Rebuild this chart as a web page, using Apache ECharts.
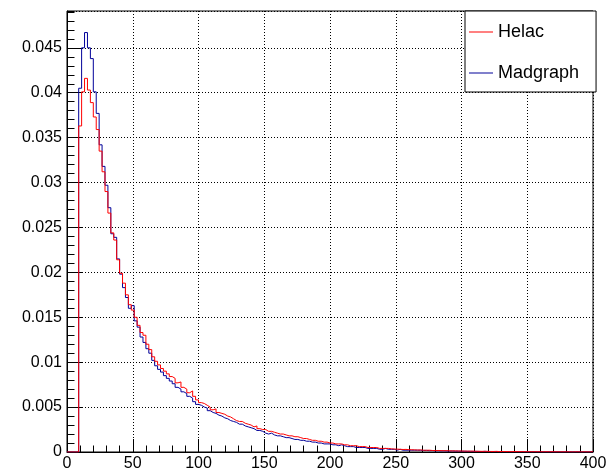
<!DOCTYPE html>
<html>
<head>
<meta charset="utf-8">
<script src="https://cdn.jsdelivr.net/npm/echarts@6/dist/echarts.min.js"></script>
<style>
  html, body { margin: 0; padding: 0; background: #fff; }
  #chart { width: 611px; height: 474px; }
</style>
</head>
<body>
<div id="chart"></div>
<script>
// Histogram binning: 180 bins on [0, 400]
const xMin = 0;
const xMax = 400;
const nBins = 180;

// Normalised bin contents, one entry per bin
const madgraph = [
  0, 0, 0, 0, 0.0405, 0.0450, 0.0467, 0.0450, 0.0438, 0.0401,
  0.0377, 0.0342, 0.0318, 0.0297, 0.0272, 0.0243, 0.0239, 0.0215, 0.0198, 0.0183,
  0.0172, 0.0160, 0.0163, 0.0146, 0.0139, 0.0128, 0.0122, 0.0115, 0.0110, 0.0102,
  0.0096, 0.0092, 0.0089, 0.0085, 0.0082, 0.0079, 0.0076, 0.0072, 0.0070, 0.0067,
  0.0065, 0.0062, 0.0060, 0.0056, 0.0053, 0.0052, 0.0050, 0.0049, 0.0046, 0.0044,
  0.0043, 0.0041, 0.0040, 0.0038, 0.0037, 0.0035, 0.0034, 0.0033, 0.0031, 0.0031,
  0.0029, 0.0028, 0.0027, 0.0026, 0.0024, 0.0024, 0.0023, 0.0021, 0.0020, 0.0021,
  0.0019, 0.0018, 0.0018, 0.0017, 0.0016, 0.0016, 0.0015, 0.0014, 0.0014, 0.0013,
  0.0013, 0.0012, 0.0012, 0.0011, 0.0011, 0.0010, 0.0010, 0.0009, 0.0009, 0.0009,
  0.0008, 0.0008, 0.0007, 0.0008, 0.0007, 0.0006, 0.0006, 0.0006, 0.0005, 0.0005,
  0.0005, 0.0005, 0.0004, 0.0004, 0.0004, 0.0004, 0.0003, 0.0003, 0.0004, 0.0003,
  0.0003, 0.0003, 0.0002, 0.0003, 0.0002, 0.0002, 0.0002, 0.0002, 0.0002, 0.0002,
  0.00019, 0.00017, 0.00018, 0.00015, 0.00016, 0.00013, 0.00014, 0.00012, 0.00013, 0.00011,
  0.00010, 0.00012, 0.00009, 0.00010, 0.00008, 0.00009, 0.00007, 0.00008, 0.00006, 0.00007,
  0.00006, 0.00005, 0.00007, 0.00005, 0.00005, 0.00004, 0.00005, 0.00004, 0.00004, 0.00003,
  0.00004, 0.00003, 0.00003, 0.00004, 0.00002, 0.00003, 0.00003, 0.00002, 0.00002, 0.00003,
  0.00002, 0.00002, 0.00002, 0.00001, 0.00002, 0.00002, 0.00001, 0.00002, 0.00001, 0.00001,
  0.00002, 0.00001, 0.00001, 0.00001, 0.00002, 0.00001, 0.00001, 0.00001, 0.00001, 0.00001
];

const helac = [
  0, 0, 0, 0, 0.0363, 0.0401, 0.0416, 0.0403, 0.0389, 0.0373,
  0.0359, 0.0335, 0.0312, 0.0290, 0.0266, 0.0244, 0.0236, 0.0214, 0.0199, 0.0188,
  0.0175, 0.0164, 0.0158, 0.0150, 0.0141, 0.0133, 0.0130, 0.0120, 0.0114, 0.0106,
  0.0101, 0.0097, 0.0093, 0.0090, 0.0087, 0.0084, 0.0082, 0.0077, 0.0078, 0.0072,
  0.0070, 0.0066, 0.0068, 0.0062, 0.0058, 0.0055, 0.0054, 0.0052, 0.0050, 0.0047,
  0.0048, 0.0044, 0.0043, 0.0042, 0.0040, 0.0039, 0.0037, 0.0035, 0.0034, 0.0034,
  0.0032, 0.0031, 0.0030, 0.0028, 0.0029, 0.0026, 0.0025, 0.0025, 0.0023, 0.0023,
  0.0022, 0.0021, 0.0020, 0.0020, 0.0019, 0.0018, 0.0018, 0.0017, 0.0017, 0.0016,
  0.0015, 0.0015, 0.0014, 0.0013, 0.0013, 0.0012, 0.0012, 0.0011, 0.0011, 0.0010,
  0.0010, 0.0009, 0.0009, 0.0009, 0.0008, 0.0008, 0.0007, 0.0007, 0.0007, 0.0006,
  0.0006, 0.0006, 0.0005, 0.0005, 0.0005, 0.0005, 0.0004, 0.0004, 0.0004, 0.0004,
  0.00035, 0.00033, 0.00032, 0.00030, 0.00028, 0.00029, 0.00026, 0.00025, 0.00024, 0.00022,
  0.00023, 0.00020, 0.00019, 0.00020, 0.00017, 0.00016, 0.00017, 0.00015, 0.00014, 0.00015,
  0.00013, 0.00012, 0.00013, 0.00011, 0.00011, 0.00010, 0.00010, 0.00009, 0.00010, 0.00008,
  0.00008, 0.00007, 0.00008, 0.00007, 0.00006, 0.00006, 0.00007, 0.00005, 0.00006, 0.00005,
  0.00005, 0.00004, 0.00005, 0.00004, 0.00004, 0.00004, 0.00003, 0.00004, 0.00003, 0.00003,
  0.00003, 0.00003, 0.00002, 0.00003, 0.00002, 0.00003, 0.00002, 0.00002, 0.00002, 0.00002,
  0.00002, 0.00002, 0.00001, 0.00002, 0.00002, 0.00001, 0.00002, 0.00001, 0.00001, 0.00002
];

const yMax = 0.0491;
const legendNames = ['Helac', 'Madgraph'];
const colors = { Helac: '#ff0000', Madgraph: '#000099' };

// Turn bin contents into a step outline: one point per lower bin edge,
// plus a closing point at the upper edge of the last bin.
function outline(values) {
  const w = (xMax - xMin) / nBins;
  const pts = values.map((v, i) => [xMin + i * w, v]);
  pts.push([xMax, values[values.length - 1]]);
  return pts;
}

const font = '"Liberation Sans", Arial, Helvetica, sans-serif';
const chart = echarts.init(document.getElementById('chart'), null, { renderer: 'canvas' });

const gridLine = { show: true, lineStyle: { color: '#000', width: 1, type: [1, 2] } };

chart.setOption({
  animation: false,
  backgroundColor: '#fff',
  grid: {
    left: 67, right: 18, top: 11, bottom: 22,
    show: true, borderColor: '#000', borderWidth: 1, backgroundColor: 'transparent'
  },
  legend: {
    data: legendNames,
    orient: 'vertical',
    left: 465, top: 11,
    icon: 'rect',
    itemWidth: 24, itemHeight: 1,
    itemGap: 21,
    padding: [11, 17, 9, 4],
    backgroundColor: '#fff',
    borderColor: '#000', borderWidth: 1,
    textStyle: { fontFamily: font, fontSize: 18, color: '#000', lineHeight: 20 }
  },
  xAxis: {
    type: 'value', min: xMin, max: xMax, interval: 50,
    axisLine: { show: true, onZero: false, lineStyle: { color: '#000', width: 1 } },
    axisTick: { show: true, inside: true, length: 13, lineStyle: { color: '#000' } },
    minorTick: { show: true, splitNumber: 5, length: 6.5, lineStyle: { color: '#000' } },
    splitLine: gridLine,
    axisLabel: { color: '#000', fontFamily: font, fontSize: 16, margin: 4 }
  },
  yAxis: [
    {
      type: 'value', min: 0, max: yMax, interval: 0.005,
      axisLine: { show: true, lineStyle: { color: '#000', width: 1 } },
      axisTick: { show: true, inside: true, length: 15, lineStyle: { color: '#000' } },
      splitLine: gridLine,
      axisLabel: {
        color: '#000', fontFamily: font, fontSize: 16, margin: 5, showMaxLabel: false,
        formatter: v => String(+v.toFixed(3))
      }
    },
    {
      // secondary scale carrying the 0.001 minor ticks
      type: 'value', min: 0, max: yMax, interval: 0.001, position: 'left',
      axisLine: { show: false },
      axisTick: { show: true, inside: true, length: 7.5, lineStyle: { color: '#000' } },
      splitLine: { show: false },
      axisLabel: { show: false }
    }
  ],
  series: [
    {
      name: 'Madgraph', type: 'line', step: 'end', data: outline(madgraph),
      showSymbol: false, symbol: 'none', color: colors.Madgraph,
      lineStyle: { width: 1, color: colors.Madgraph }, yAxisIndex: 0
    },
    {
      name: 'Helac', type: 'line', step: 'end', data: outline(helac),
      showSymbol: false, symbol: 'none', color: colors.Helac,
      lineStyle: { width: 1, color: colors.Helac }, yAxisIndex: 0
    }
  ]
});
</script>
</body>
</html>
